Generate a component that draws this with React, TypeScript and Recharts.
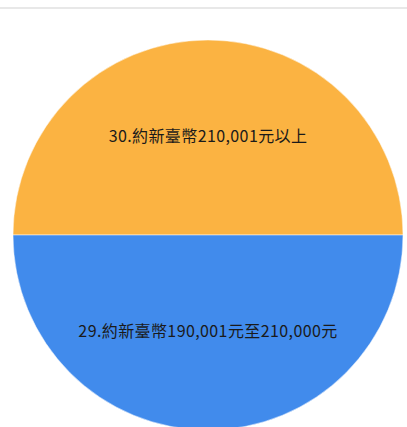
import { Cell, Pie, PieChart } from "recharts";

const categories = ["30.約新臺幣210,001元以上", "29.約新臺幣190,001元至210,000元"];
const values = [1, 1];
const colors = ["#fbb342", "#418bec"];

const RADIAN = Math.PI / 180;

function renderLabel(props: any) {
  const { cx, cy, midAngle, outerRadius, index } = props;
  const r = outerRadius * 0.5;
  const x = cx + r * Math.cos(-midAngle * RADIAN);
  const y = cy + r * Math.sin(-midAngle * RADIAN) - 3;
  return (
    <text
      x={x}
      y={y}
      textAnchor="middle"
      dominantBaseline="central"
      fill="#1a1a1a"
      fontSize={16}
      letterSpacing={0.4}
      fontFamily="'Noto Sans CJK TC', 'Noto Sans', sans-serif"
    >
      {categories[index]}
    </text>
  );
}

export default function App() {
  const data = categories.map((name, i) => ({ name, value: values[i] }));

  return (
    <div style={{ position: "absolute", top: 0, left: 0, width: 407, height: 427, background: "#fff", overflow: "hidden" }}>
      <div style={{ position: "absolute", top: 7, left: 0, width: 407, height: 2, background: "#e8e8e8" }} />
      <PieChart width={407} height={427} margin={{ top: 0, right: 0, bottom: 0, left: 0 }}>
        <Pie
          data={data}
          dataKey="value"
          nameKey="name"
          cx={208}
          cy={235}
          outerRadius={195}
          startAngle={0}
          endAngle={360}
          stroke="#fff"
          strokeWidth={0.5}
          label={renderLabel}
          labelLine={false}
          isAnimationActive={false}
        >
          {data.map((d, i) => (
            <Cell key={d.name} fill={colors[i]} />
          ))}
        </Pie>
      </PieChart>
    </div>
  );
}
